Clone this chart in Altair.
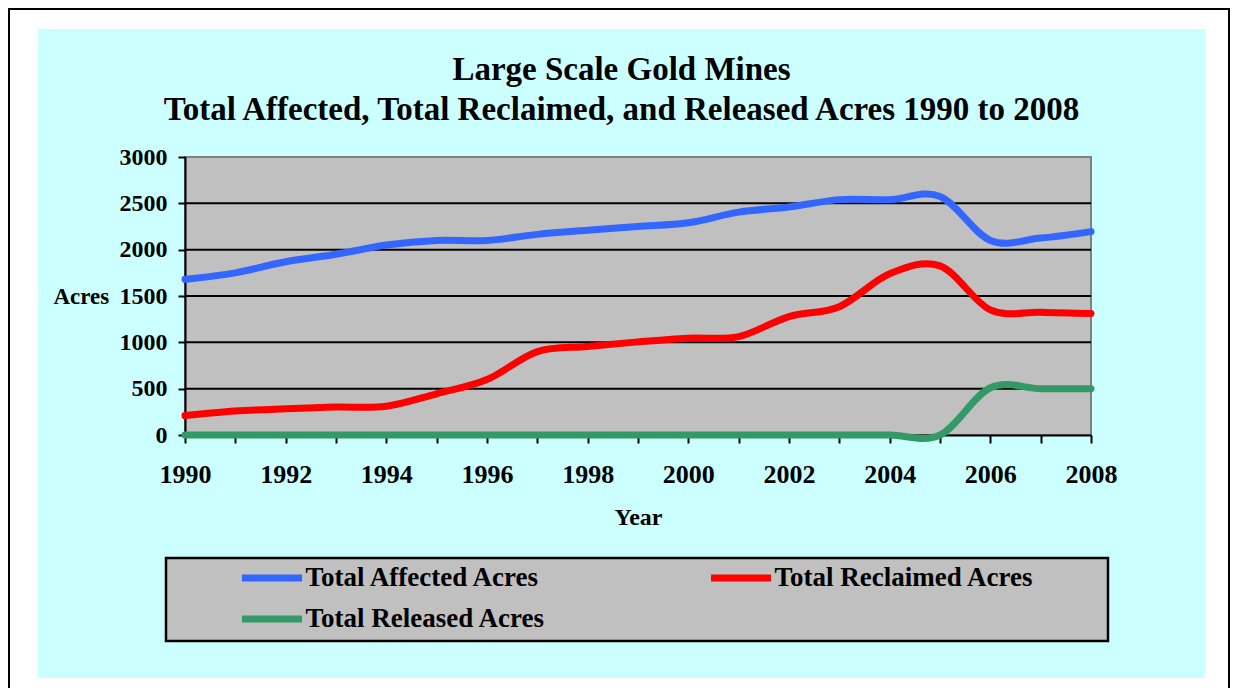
import altair as alt
import pandas as pd

# ---------------- data ----------------
YEARS = [1990, 1991, 1992, 1993, 1994, 1995, 1996, 1997, 1998, 1999,
         2000, 2001, 2002, 2003, 2004, 2005, 2006, 2007, 2008]
AFFECTED = [1680, 1750, 1870, 1950, 2050, 2100, 2100, 2165, 2210, 2250,
            2290, 2405, 2460, 2540, 2540, 2575, 2100, 2125, 2195]
RECLAIMED = [210, 258, 283, 302, 310, 445, 598, 900, 955, 1005,
             1045, 1062, 1278, 1385, 1740, 1825, 1350, 1325, 1312]
RELEASED = [0, 0, 0, 0, 0, 0, 0, 0, 0, 0,
            0, 0, 0, 0, 0, 0, 510, 500, 500]
SERIES = ["Total Affected Acres", "Total Reclaimed Acres", "Total Released Acres"]
COLORS = ["#3366FF", "#FF0000", "#339966"]
Y_TICKS = [0, 500, 1000, 1500, 2000, 2500, 3000]
GRID = [500, 1000, 1500, 2000, 2500]
TITLE_LINES = ["Large Scale Gold Mines",
               "Total Affected, Total Reclaimed, and Released Acres 1990 to 2008"]

rows = []
for name, vals in zip(SERIES, [AFFECTED, RECLAIMED, RELEASED]):
    for yr, v in zip(YEARS, vals):
        rows.append({"year": yr, "acres": v, "series": name})
df = pd.DataFrame(rows)
one = pd.DataFrame({"a": [0]})

FONT = "Liberation Serif"
W, H = 906, 278

y_scale = alt.Scale(domain=[0, 3000], nice=False)
y_axis = alt.Axis(values=Y_TICKS, format="d",
                  labelFont=FONT, labelFontSize=24, labelFontWeight="bold",
                  labelColor="black", labelPadding=11,
                  tickSize=7, tickWidth=2, tickColor="black",
                  domainColor="black", domainWidth=2, grid=False,
                  title="Acres", titleFont=FONT, titleFontSize=23,
                  titleFontWeight="bold", titleColor="black",
                  titleAngle=0, titleAlign="left",
                  titleBaseline="alphabetic", titleX=-132, titleY=146)

grid = alt.Chart(pd.DataFrame({"g": GRID})).mark_rule(
    color="black", strokeWidth=2
).encode(y=alt.Y("g:Q", scale=y_scale, axis=y_axis))

lines = alt.Chart(df).mark_line(
    interpolate="cardinal", tension=0, strokeWidth=7,
    strokeCap="round", strokeJoin="round"
).encode(
    x=alt.X("year:Q",
            scale=alt.Scale(domain=[1990, 2008], nice=False, zero=False),
            axis=alt.Axis(values=YEARS, format="d",
                          labelExpr="datum.value % 2 == 0 ? datum.label : ''",
                          labelFont=FONT, labelFontSize=26, labelFontWeight="bold",
                          labelColor="black", labelPadding=18, labelFlush=False,
                          labelOverlap=False, tickSize=8, tickWidth=2,
                          tickColor="black", domainColor="black", domainWidth=2,
                          grid=False, title="Year", titleFont=FONT,
                          titleFontSize=24, titleFontWeight="bold",
                          titleColor="black", titleX=453, titleY=89,
                          titleBaseline="alphabetic", titleAlign="center")),
    y=alt.Y("acres:Q", scale=y_scale, axis=y_axis),
    color=alt.Color("series:N",
                    scale=alt.Scale(domain=SERIES, range=COLORS),
                    legend=alt.Legend(title=None, orient="none", direction="horizontal",
                                      legendX=53.5, legendY=408, columns=2,
                                      symbolType="stroke", symbolSize=3600,
                                      symbolStrokeWidth=7, clipHeight=26,
                                      rowPadding=14, columnPadding=162,
                                      labelFont=FONT, labelFontSize=27,
                                      labelFontWeight="bold", labelColor="black",
                                      labelOffset=0, labelLimit=600, padding=0,
                                      symbolOffset=0)),
)


def box(x1, x2, y1, y2, **kw):
    return alt.Chart(one).mark_rect(**kw).encode(
        x=alt.value(x1), x2=alt.value(x2), y=alt.value(y1), y2=alt.value(y2))


legend_box = box(-19, 923, 401, 484, fill="#C0C0C0", stroke="black", strokeWidth=2.5)
band_left = box(-177, -147, -149, 531, fill="white")
band_right = box(1020, 1045, -149, 531, fill="white")
band_top = box(-177, 1045, -149, -128, fill="white")
band_bottom = box(-177, 1045, 521, 531, fill="white")
frame = box(-176, 1044, -148, 560, fill="white", fillOpacity=0,
            stroke="black", strokeWidth=2)

title = alt.Chart(one).mark_text(
    font=FONT, fontSize=33, fontWeight="bold", lineHeight=40,
    align="center", baseline="alphabetic", color="black"
).encode(x=alt.value(436.5), y=alt.value(-77), text=alt.value(TITLE_LINES))

chart = alt.layer(
    grid, legend_box, lines, band_left, band_right, band_top, band_bottom, frame, title
).properties(
    width=W, height=H,
    padding={"left": 177, "top": 149, "right": 139, "bottom": 253},
    autosize=alt.AutoSizeParams(type="none"),
).configure(
    background="#CCFFFF"
).configure_view(
    fill="#C0C0C0", stroke="#808080", strokeWidth=2
)

chart.save("out.html", embed_options={"renderer": "svg", "actions": False})
